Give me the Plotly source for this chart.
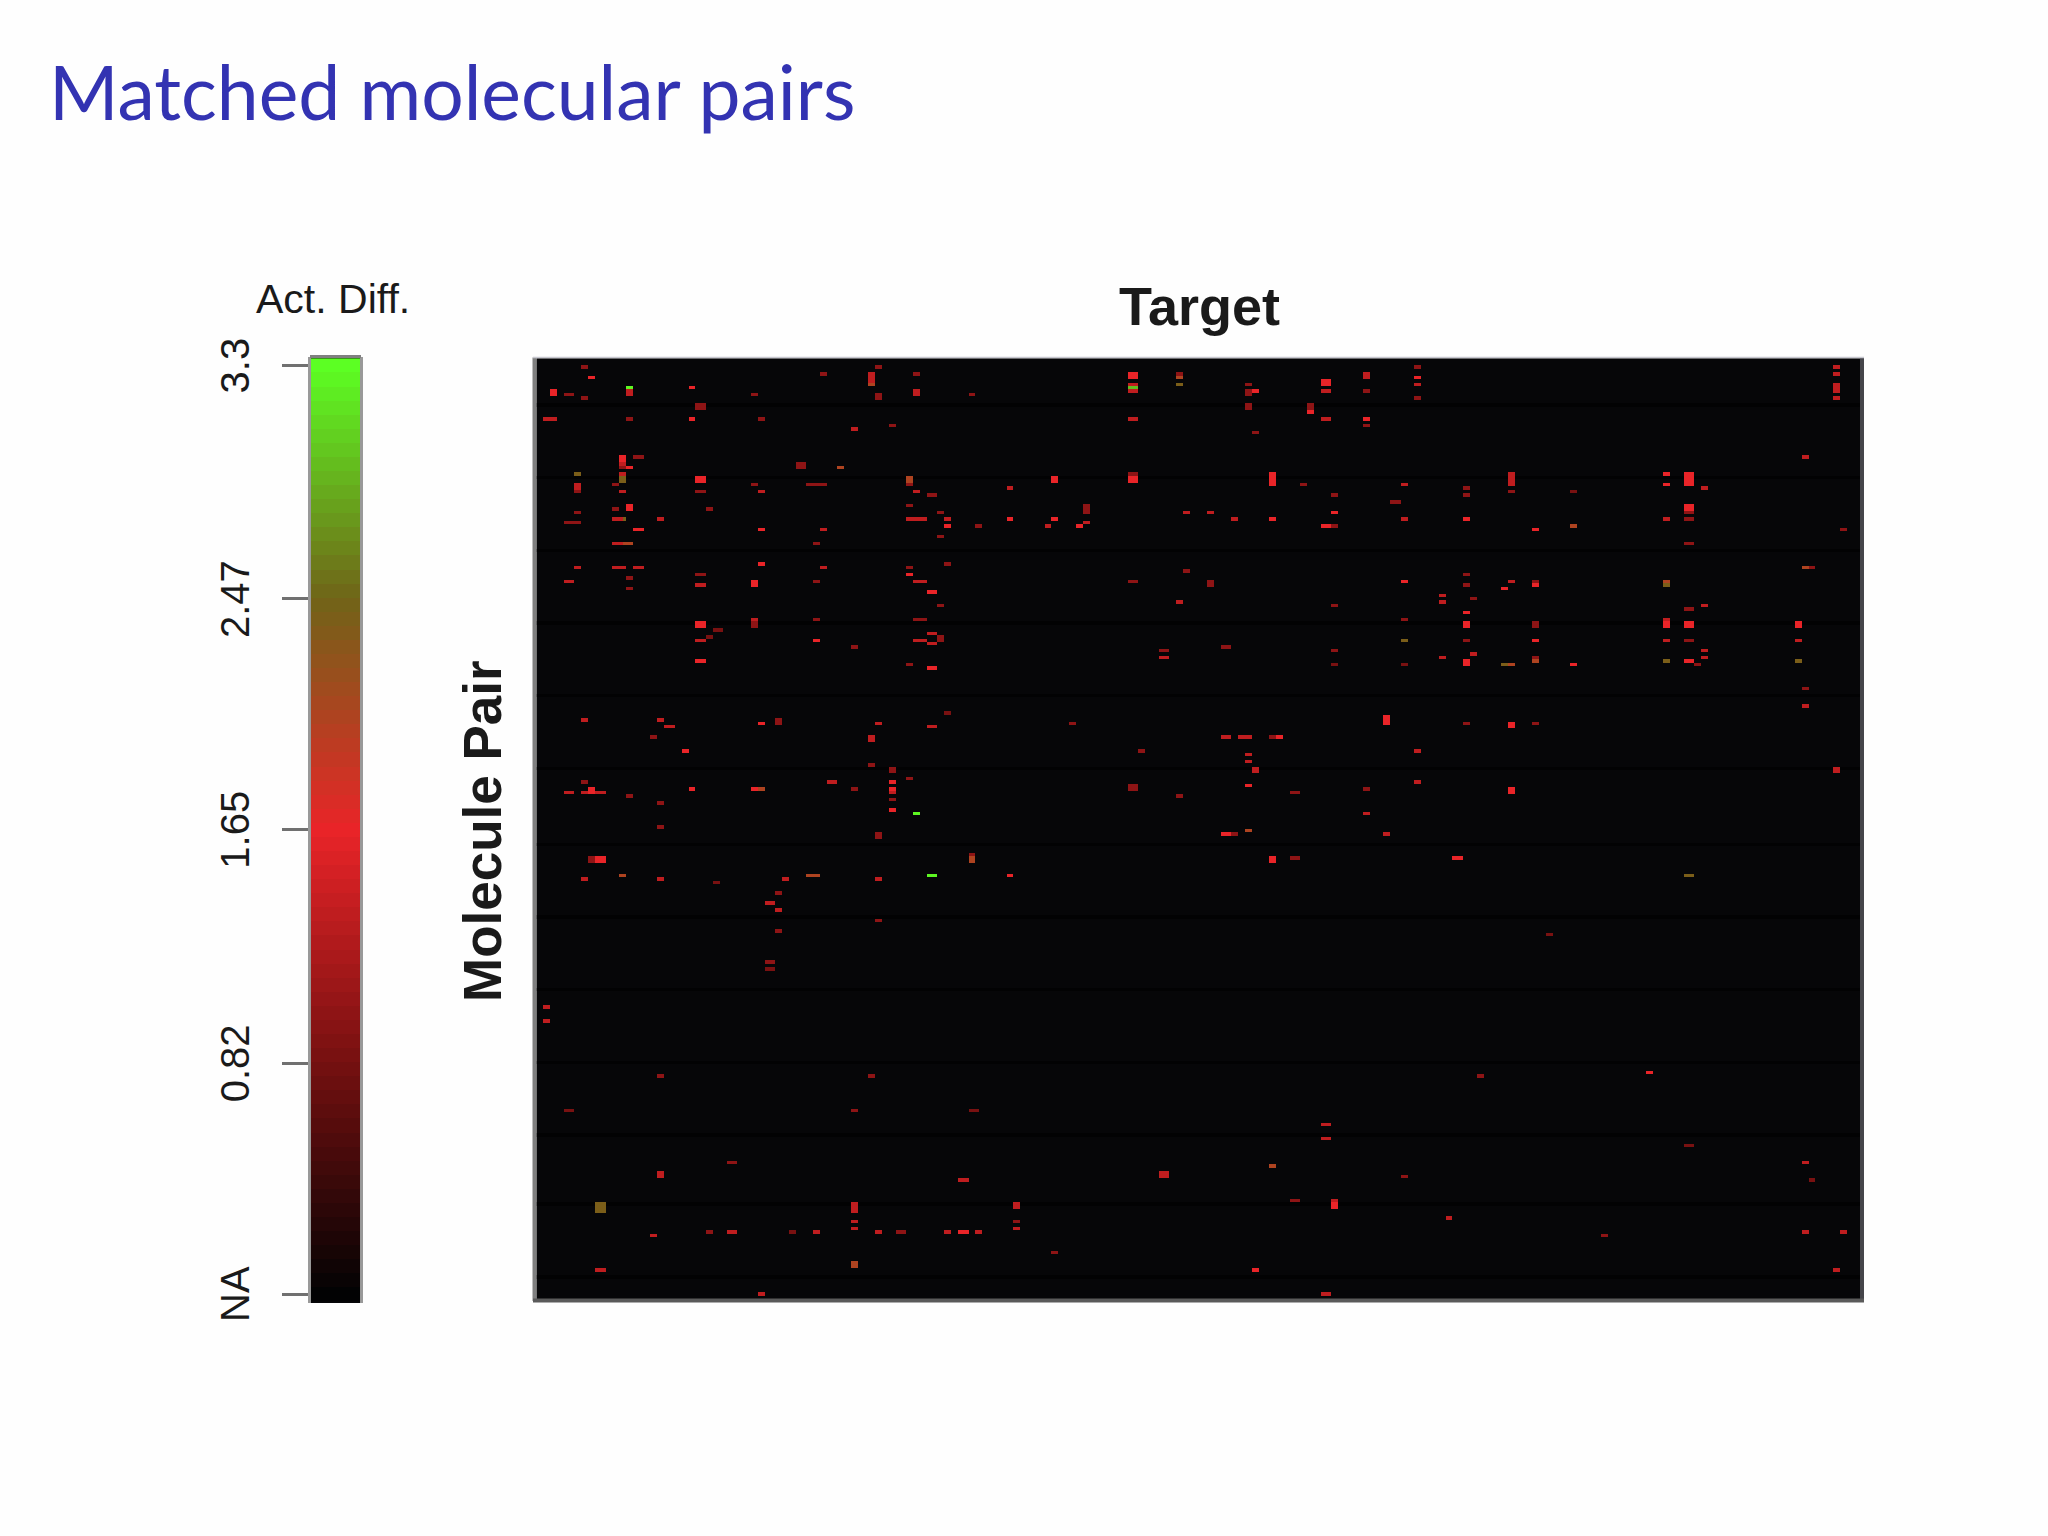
import numpy as np
import plotly.graph_objects as go

N_ROWS = 272
N_COLS = 383

# every list: (pair row, first target column, n columns, n rows), one list per activity difference
hits_165 = [
    (5, 15, 2, 1), (9, 4, 2, 2), (8, 44, 2, 1), (17, 44, 2, 1), (28, 24, 2, 2), (31, 26, 2, 1),
    (34, 46, 3, 2), (42, 26, 2, 2), (62, 107, 2, 1), (48, 118, 2, 1), (49, 28, 3, 1), (49, 64, 2, 1),
    (59, 64, 2, 1), (64, 62, 2, 2), (67, 113, 3, 1), (76, 46, 3, 2), (81, 80, 2, 1), (87, 46, 3, 1),
    (89, 113, 3, 1), (4, 171, 3, 2), (6, 227, 3, 2), (17, 239, 2, 1), (5, 254, 2, 1), (9, 207, 2, 1),
    (15, 223, 2, 1), (34, 149, 2, 2), (34, 171, 3, 2), (33, 212, 2, 4), (44, 230, 2, 1), (46, 149, 2, 1),
    (46, 268, 2, 1), (48, 156, 2, 1), (48, 227, 3, 1), (64, 250, 2, 1), (73, 268, 2, 1), (76, 268, 2, 2),
    (87, 268, 2, 2), (49, 288, 2, 1), (33, 326, 2, 1), (36, 326, 2, 1), (33, 332, 3, 4), (42, 332, 3, 2),
    (66, 279, 2, 1), (65, 288, 2, 1), (76, 326, 2, 2), (76, 332, 3, 2), (76, 364, 2, 2), (81, 288, 2, 1),
    (87, 332, 3, 1), (88, 299, 2, 1), (105, 64, 2, 1), (113, 42, 2, 1), (124, 15, 2, 2), (124, 44, 2, 1),
    (124, 62, 2, 1), (122, 102, 2, 1), (124, 102, 2, 1), (130, 102, 2, 1), (144, 17, 3, 2), (149, 136, 2, 1),
    (109, 214, 2, 1), (123, 205, 2, 1), (137, 198, 3, 1), (144, 212, 2, 2), (103, 245, 2, 3), (144, 265, 3, 1),
    (105, 281, 2, 2), (124, 281, 2, 2), (244, 230, 2, 2), (263, 207, 2, 1), (206, 321, 2, 1),
    (46, 136, 2, 1), (46, 212, 2, 1), (252, 122, 3, 1),
]
hits_135 = [
    (9, 26, 2, 2), (4, 96, 2, 3), (9, 109, 2, 2), (20, 91, 2, 1), (30, 24, 2, 1), (33, 24, 2, 1),
    (36, 11, 2, 2), (38, 24, 2, 1), (38, 64, 2, 1), (38, 109, 2, 1), (46, 22, 3, 1), (46, 35, 2, 1),
    (46, 107, 6, 1), (46, 118, 2, 1), (49, 82, 2, 1), (53, 22, 3, 1), (60, 11, 2, 1), (60, 22, 4, 1),
    (60, 28, 3, 1), (60, 82, 2, 1), (64, 8, 3, 1), (65, 46, 3, 1), (75, 62, 2, 1), (79, 113, 3, 1),
    (81, 46, 3, 1), (81, 109, 4, 1), (82, 113, 3, 1), (17, 2, 4, 1), (37, 136, 2, 1), (64, 109, 4, 1),
    (7, 171, 3, 1), (9, 171, 3, 1), (17, 171, 3, 1), (9, 227, 3, 1), (17, 227, 3, 1), (4, 239, 2, 2),
    (7, 254, 2, 1), (36, 250, 2, 1), (44, 187, 2, 1), (44, 194, 2, 1), (46, 201, 2, 1), (46, 250, 2, 1),
    (47, 158, 2, 1), (48, 147, 2, 1), (70, 261, 2, 1), (70, 185, 2, 1), (68, 261, 2, 1), (86, 180, 3, 1),
    (86, 261, 2, 1), (85, 270, 2, 1), (2, 375, 2, 1), (4, 375, 2, 1), (7, 375, 2, 3), (11, 375, 2, 1),
    (28, 366, 2, 1), (33, 281, 2, 4), (37, 337, 2, 1), (46, 326, 2, 1), (64, 281, 2, 1), (71, 337, 2, 1),
    (75, 326, 2, 1), (81, 326, 2, 1), (81, 364, 2, 1), (84, 337, 2, 1), (86, 337, 2, 1), (100, 366, 2, 1),
    (104, 13, 2, 1), (104, 35, 2, 1), (106, 37, 3, 1), (105, 98, 2, 1), (106, 113, 3, 1), (109, 96, 2, 2),
    (125, 8, 3, 1), (125, 13, 7, 1), (122, 84, 3, 1), (125, 102, 2, 1), (150, 13, 2, 1), (150, 71, 2, 1),
    (150, 35, 2, 1), (150, 98, 2, 1), (157, 66, 3, 1), (159, 69, 2, 1), (109, 198, 3, 1), (109, 203, 4, 1),
    (114, 205, 2, 1), (116, 205, 2, 1), (118, 207, 2, 2), (113, 254, 2, 1), (122, 254, 2, 1), (131, 239, 2, 1),
    (137, 245, 2, 1), (118, 375, 2, 2), (235, 35, 2, 2), (235, 180, 3, 2), (237, 122, 3, 1), (244, 91, 2, 3),
    (244, 138, 2, 2), (249, 91, 2, 1), (251, 91, 2, 1), (251, 138, 2, 1), (253, 33, 2, 1), (252, 55, 3, 1),
    (252, 80, 2, 1), (252, 98, 2, 1), (252, 118, 2, 1), (252, 127, 2, 1), (263, 17, 3, 1), (270, 64, 2, 1),
    (225, 227, 3, 1), (221, 227, 3, 1), (243, 230, 2, 1), (232, 366, 2, 1), (248, 263, 2, 1), (252, 366, 2, 1),
    (252, 377, 2, 1), (263, 375, 2, 1), (270, 227, 3, 1), (187, 2, 2, 1), (191, 2, 2, 1),
]
hits_100 = [
    (2, 13, 2, 1), (10, 8, 3, 1), (11, 13, 2, 1), (13, 46, 3, 2), (17, 26, 2, 1), (10, 62, 2, 1),
    (17, 64, 2, 1), (4, 82, 2, 1), (2, 98, 2, 1), (10, 98, 2, 2), (4, 109, 2, 1), (10, 125, 2, 1),
    (19, 102, 2, 1), (28, 28, 3, 1), (31, 24, 2, 1), (30, 75, 3, 2), (38, 11, 2, 1), (36, 22, 2, 1),
    (36, 62, 2, 1), (36, 78, 6, 1), (38, 46, 3, 1), (39, 113, 3, 1), (36, 107, 2, 1), (42, 107, 2, 1),
    (43, 22, 2, 1), (43, 49, 2, 1), (44, 11, 2, 1), (44, 116, 2, 1), (47, 8, 5, 1), (48, 127, 2, 1),
    (51, 116, 2, 1), (53, 80, 2, 1), (59, 118, 2, 1), (60, 107, 2, 1), (62, 46, 3, 1), (63, 26, 2, 1),
    (64, 80, 2, 1), (66, 26, 2, 1), (71, 116, 2, 1), (76, 62, 2, 2), (75, 80, 2, 1), (75, 109, 4, 1),
    (80, 116, 2, 2), (83, 91, 2, 1), (88, 107, 2, 1), (7, 205, 2, 1), (9, 205, 2, 2), (13, 205, 2, 2),
    (21, 207, 2, 1), (13, 223, 2, 2), (4, 185, 2, 1), (9, 239, 2, 1), (19, 239, 2, 1), (11, 254, 2, 1),
    (2, 254, 2, 1), (33, 171, 3, 1), (36, 221, 2, 1), (39, 230, 2, 1), (41, 247, 3, 1), (37, 268, 2, 1),
    (39, 268, 2, 1), (42, 158, 2, 3), (48, 230, 2, 1), (61, 187, 2, 1), (64, 171, 3, 1), (64, 194, 2, 2),
    (62, 268, 2, 1), (65, 268, 2, 1), (69, 270, 2, 1), (71, 230, 2, 1), (75, 250, 2, 1), (81, 268, 2, 1),
    (83, 198, 3, 1), (84, 180, 3, 1), (84, 230, 2, 1), (38, 281, 2, 1), (49, 377, 2, 1), (44, 332, 3, 1),
    (46, 332, 3, 1), (53, 332, 3, 1), (60, 368, 2, 1), (64, 288, 2, 1), (72, 332, 3, 1), (76, 288, 2, 2),
    (81, 332, 3, 1), (86, 288, 2, 1), (88, 335, 2, 1), (95, 366, 2, 1), (104, 69, 2, 2), (109, 33, 2, 1),
    (117, 96, 2, 1), (118, 102, 2, 2), (121, 107, 2, 1), (122, 13, 2, 1), (126, 26, 2, 1), (124, 91, 2, 1),
    (127, 102, 2, 1), (128, 35, 2, 1), (135, 35, 2, 1), (137, 98, 2, 2), (144, 15, 2, 2), (143, 125, 2, 1),
    (154, 69, 2, 1), (162, 98, 2, 1), (165, 69, 2, 1), (174, 66, 3, 1), (105, 154, 2, 1), (113, 174, 2, 1),
    (123, 171, 3, 2), (126, 185, 2, 1), (109, 212, 2, 1), (125, 218, 3, 1), (137, 201, 2, 1), (144, 218, 3, 1),
    (105, 268, 2, 1), (124, 239, 2, 1), (105, 288, 2, 1), (207, 35, 2, 1), (207, 96, 2, 1), (217, 91, 2, 1),
    (232, 55, 3, 1), (249, 138, 2, 1), (252, 104, 3, 1), (258, 149, 2, 1), (207, 272, 2, 1), (236, 250, 2, 1),
    (243, 218, 3, 1), (253, 308, 2, 1), (252, 49, 2, 1),
]
hits_085 = [
    (78, 51, 3, 1), (80, 49, 2, 1), (38, 299, 2, 1), (88, 230, 2, 1), (88, 250, 2, 1), (102, 118, 2, 1),
    (151, 51, 2, 1), (176, 66, 3, 1), (166, 292, 2, 1), (217, 8, 3, 1), (217, 125, 3, 1), (252, 73, 2, 1),
    (227, 332, 3, 1), (237, 368, 2, 1),
]
hits_205 = [
    (7, 96, 2, 1), (31, 87, 2, 1), (34, 107, 2, 2), (53, 25, 3, 1), (5, 185, 2, 1), (48, 299, 2, 1),
    (87, 288, 2, 1), (64, 326, 2, 1), (60, 366, 2, 1), (88, 281, 2, 1), (124, 64, 2, 1),
    (144, 125, 2, 2), (149, 24, 2, 1), (149, 78, 4, 1), (136, 205, 2, 1), (261, 91, 2, 2), (233, 212, 2, 1),
]
hits_240 = [
    (33, 11, 2, 1), (34, 24, 2, 2), (46, 25, 1, 1), (7, 185, 2, 1), (81, 250, 2, 1), (65, 326, 2, 1),
    (87, 326, 2, 1), (87, 364, 2, 1), (88, 279, 2, 1), (149, 332, 3, 1), (244, 17, 3, 3),
]
hits_295 = [(8, 171, 3, 1)]
hits_325 = [(8, 26, 2, 1), (131, 109, 2, 1), (149, 113, 3, 1)]

hit_groups = [
    (0.85, hits_085), (1.0, hits_100), (1.35, hits_135), (1.65, hits_165),
    (2.05, hits_205), (2.4, hits_240), (2.95, hits_295), (3.25, hits_325),
]

# rows that came out slightly darker than the rest of the panel
dark_rows = [13, 34, 55, 76, 97, 118, 140, 161, 182, 203, 224, 244, 265]

# colour key
key_levels = [
    0.0, 0.05, 0.1, 0.15, 0.2, 0.25, 0.3, 0.35, 0.4, 0.45, 0.5, 0.55, 0.6, 0.65, 0.7, 0.75, 0.8,
    0.85, 0.9, 0.95, 1.0, 1.05, 1.1, 1.15, 1.2, 1.25, 1.3, 1.35, 1.4, 1.45, 1.5, 1.55, 1.6, 1.65,
    1.7, 1.75, 1.8, 1.85, 1.9, 1.95, 2.0, 2.05, 2.1, 2.15, 2.2, 2.25, 2.3, 2.35, 2.4, 2.45, 2.5,
    2.55, 2.6, 2.65, 2.7, 2.75, 2.8, 2.85, 2.9, 2.95, 3.0, 3.05, 3.1, 3.15, 3.2, 3.25, 3.3,
]
key_tickvals = [0, 0.82, 1.65, 2.47, 3.3]
key_ticktext = ["NA", "0.82", "1.65", "2.47", "3.3"]

WIDTH = 2048
HEIGHT = 1536


def px_x(x):
    return x / WIDTH


def px_y(y):
    return 1 - y / HEIGHT


z = np.full((N_ROWS, N_COLS), np.nan)
z[dark_rows, :] = 0
for value, hits in hit_groups:
    for row, col, n_cols, n_rows in hits:
        z[row:row + n_rows, col:col + n_cols] = value

fig = go.Figure()
fig.add_trace(go.Heatmap(z=z, coloraxis="coloraxis", hoverongaps=False, xaxis="x", yaxis="y"))
fig.add_trace(go.Heatmap(
    z=[[v] for v in key_levels], y=key_levels, x=[0],
    coloraxis="coloraxis", xaxis="x2", yaxis="y2",
))

fig.update_layout(
    width=WIDTH,
    height=HEIGHT,
    margin=dict(l=0, r=0, t=0, b=0),
    paper_bgcolor="#fefefe",
    plot_bgcolor="#060608",
    showlegend=False,
    coloraxis=dict(
        cmin=0,
        cmax=3.3,
        showscale=False,
        colorscale=[
            [0, "#020203"],
            [0.25, "#761010"],
            [0.5, "#e92428"],
            [0.75, "#706418"],
            [1, "#5cff23"],
        ],
    ),
    xaxis=dict(domain=[px_x(536.4), px_x(1860.4)], range=[-0.5, N_COLS - 0.5], visible=False),
    yaxis=dict(domain=[px_y(1299), px_y(358.3)], range=[N_ROWS - 0.5, -0.5], visible=False),
    xaxis2=dict(domain=[px_x(311), px_x(360)], anchor="y2", visible=False),
    yaxis2=dict(
        domain=[px_y(1303), px_y(357)],
        anchor="x2",
        automargin=False,
        range=[-0.032, 3.33],
        tickmode="array",
        tickvals=key_tickvals,
        showticklabels=False,
        ticks="outside",
        ticklen=26,
        tickwidth=3,
        tickcolor="#707070",
        showline=True,
        mirror=True,
        linewidth=3,
        linecolor="#999999",
        showgrid=False,
        zeroline=False,
    ),
)

# panel frame
frame = [
    (534.5, 357.5, 534.5, 1301, 4, "#808080"),
    (1862, 357.5, 1862, 1301, 4, "#45454a"),
    (533, 1300.5, 1864, 1300.5, 4, "#5a5a5a"),
    (533, 357.5, 1864, 357.5, 1.5, "#c8c8d0"),
    (310, 356.5, 361, 356.5, 3, "#808080"),
]
for x0, y0, x1, y1, w, colour in frame:
    fig.add_shape(
        type="line", xref="paper", yref="paper",
        x0=px_x(x0), y0=px_y(y0), x1=px_x(x1), y1=px_y(y1),
        line=dict(color=colour, width=w),
    )

# rotated key labels sit centred on their ticks
for value, label in zip(key_tickvals, key_ticktext):
    fig.add_annotation(
        text=label, xref="paper", yref="y2", x=px_x(235), y=value,
        xanchor="center", yanchor="middle", textangle=-90, showarrow=False,
        font=dict(family="Liberation Sans", size=40, color="#1a1a1a"),
    )

texts = [
    ("Matched molecular pairs", 47, 91, "left", 0, "Lato", 75, "#3333b2"),
    ("Act. Diff.", 333, 299, "center", 0, "Liberation Sans", 41, "#1a1a1a"),
    ("<b>Target</b>", 1199, 306, "center", 0, "Liberation Sans", 54, "#1a1a1a"),
    ("<b>Molecule Pair</b>", 482, 831, "center", -90, "Liberation Sans", 53, "#1a1a1a"),
]
for text, x, y, anchor, angle, family, size, colour in texts:
    fig.add_annotation(
        text=text, xref="paper", yref="paper", x=px_x(x), y=px_y(y),
        xanchor=anchor, yanchor="middle", textangle=angle, showarrow=False,
        font=dict(family=family, size=size, color=colour),
    )

fig.write_html(
    "out.html",
    config={"displayModeBar": False},
    post_script="document.body.style.margin='0';",
)
